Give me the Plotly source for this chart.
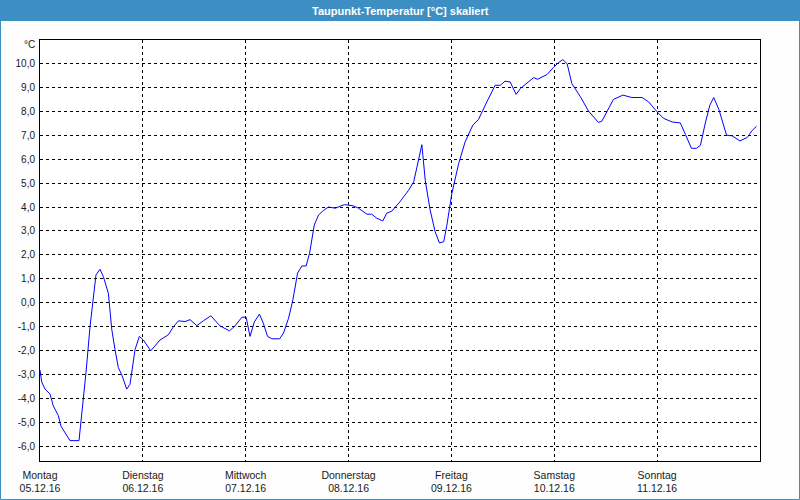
import plotly.graph_objects as go
import pandas as pd

# hours since Monday 05.12.16 00:00, dew point temperature in °C
hours = [0.0, 0.4, 1.17, 2.33, 3.1, 4.27, 4.9, 5.84, 7.0, 9.1, 9.74, 10.74, 11.67, 12.3, 13.07, 14.0,
         14.78, 15.95, 16.74, 17.5, 18.28, 19.07, 20.24, 21.0, 21.4, 22.18, 23.18, 24.12, 25.84, 26.85,
         28.0, 29.95, 31.12, 32.3, 33.85, 35.0, 36.58, 38.12, 39.85, 42.0, 44.2, 45.5, 47.1, 48.1, 49.0,
         50.0, 51.2, 52.1, 53.1, 54.1, 55.9, 56.8, 58.0, 59.0, 60.1, 61.1, 62.1, 62.9, 64.0, 65.0, 66.1,
         67.3, 68.9, 71.0, 73.1, 74.3, 76.3, 77.4, 78.6, 80.0, 80.9, 82.1, 84.0, 86.0, 87.2, 89.1, 89.9,
         91.0, 92.2, 93.2, 94.2, 94.9, 96.1, 97.7, 99.2, 101.0, 102.3, 104.3, 106.2, 107.4, 108.5, 109.7,
         111.1, 112.1, 113.6, 115.2, 116.1, 118.3, 119.8, 121.0, 122.0, 123.0, 124.1, 126.1, 128.0, 130.3,
         131.1, 133.8, 136.0, 138.1, 140.5, 142.0, 144.0, 145.5, 147.5, 149.4, 150.6, 152.0, 153.2, 154.1,
         155.3, 156.3, 157.2, 158.4, 160.2, 161.5, 163.3, 165.0, 166.2, 167.2]
temps = [-2.8, -3.3, -3.6, -3.8, -4.3, -4.7, -5.15, -5.4, -5.75, -5.75, -4.7, -2.9, -1.0, 0.05, 1.17, 1.4,
         1.1, 0.4, -1.1, -1.95, -2.7, -3.0, -3.6, -3.4, -2.9, -1.95, -1.4, -1.55, -2.0, -1.8,
         -1.55, -1.33, -1.0, -0.75, -0.78, -0.7, -0.95, -0.75, -0.54, -0.96, -1.17, -0.96, -0.6, -0.6, -1.4,
         -0.8, -0.47, -0.85, -1.4, -1.5, -1.5, -1.27, -0.64, 0.12, 1.24, 1.54, 1.54, 2.07, 3.25, 3.67, 3.85,
         4.0, 3.95, 4.1, 4.05, 3.95, 3.7, 3.7, 3.53, 3.42, 3.74, 3.83, 4.22, 4.7, 5.05, 6.6, 5.1,
         3.9, 2.97, 2.5, 2.55, 3.2, 4.57, 5.82, 6.72, 7.42, 7.65, 8.4, 9.08, 9.08, 9.25, 9.22,
         8.7, 8.95, 9.18, 9.4, 9.33, 9.53, 9.82, 10.03, 10.15, 9.98, 9.15, 8.6, 8.0, 7.53,
         7.58, 8.49, 8.67, 8.57, 8.57, 8.39, 7.97, 7.7, 7.55, 7.51, 7.03, 6.45, 6.45, 6.58,
         7.55, 8.25, 8.57, 8.07, 7.0, 6.97, 6.76, 6.9, 7.2, 7.37]

day_names = ["Montag", "Dienstag", "Mittwoch", "Donnerstag", "Freitag", "Samstag", "Sonntag"]
day_dates = ["05.12.16", "06.12.16", "07.12.16", "08.12.16", "09.12.16", "10.12.16", "11.12.16"]
y_ticks = [-6, -5, -4, -3, -2, -1, 0, 1, 2, 3, 4, 5, 6, 7, 8, 9, 10]
y_labels = ["-6,0", "-5,0", "-4,0", "-3,0", "-2,0", "-1,0", "0,0", "1,0", "2,0", "3,0", "4,0",
            "5,0", "6,0", "7,0", "8,0", "9,0", "10,0"]

start = pd.Timestamp("2016-12-05")
xs = [start + pd.Timedelta(hours=h) for h in hours]
tick_x = [start + pd.Timedelta(days=i) for i in range(len(day_names))]
tick_text = [f"{n}<br>{d}" for n, d in zip(day_names, day_dates)]

W, H = 800, 500
L, R, T, B = 40, 40, 40, 39
PW, PH = W - L - R, H - T - B


def px(p):
    return (p - L) / PW


def py(p):
    return (H - B - p) / PH


BLUE = "#3d8fc3"
FONT = "Liberation Sans"

fig = go.Figure(go.Scatter(x=xs, y=temps, mode="lines",
                           line=dict(color="#0000ff", width=1), hoverinfo="x+y"))

fig.update_layout(
    width=W, height=H,
    margin=dict(l=L, r=R, t=T, b=B, autoexpand=False),
    paper_bgcolor="#fdfefd",
    plot_bgcolor="#ffffff",
    showlegend=False,
    font=dict(family=FONT, size=10, color="#1a1a1a"),
    shapes=[
        dict(type="rect", xref="paper", yref="paper", x0=px(0), x1=px(W), y0=py(21), y1=py(-2),
             fillcolor=BLUE, line=dict(width=0), layer="below"),
        dict(type="rect", xref="paper", yref="paper", x0=px(0.5), x1=px(W - 0.5), y0=py(H - 0.5), y1=py(0),
             line=dict(color=BLUE, width=1), fillcolor="rgba(0,0,0,0)"),
    ],
    annotations=[
        dict(text="<b>Taupunkt-Temperatur [°C] skaliert</b>", xref="paper", yref="paper",
             x=0.5, y=py(10.5), xanchor="center", yanchor="middle", showarrow=False,
             font=dict(family=FONT, size=11, color="white")),
        dict(text="°C", xref="paper", yref="paper", x=px(37), y=py(44), xanchor="right",
             yanchor="middle", showarrow=False, font=dict(family=FONT, size=10, color="#1a1a1a")),
    ],
)

fig.update_xaxes(
    type="date",
    range=[start, start + pd.Timedelta(days=7)],
    tickmode="array", tickvals=tick_x, ticktext=tick_text,
    showgrid=True, gridcolor="black", gridwidth=1, griddash="3px,3px",
    showline=True, linecolor="black", linewidth=1, mirror=True,
    ticks="", zeroline=False, tickangle=0, ticklabelstandoff=4, automargin=False,
    tickfont=dict(family=FONT, size=10.5, color="#1a1a1a"),
)
fig.update_yaxes(
    range=[-6.6, 10.97],
    tickmode="array", tickvals=y_ticks, ticktext=y_labels,
    showgrid=True, gridcolor="black", gridwidth=1, griddash="3px,3px",
    showline=True, linecolor="black", linewidth=1, mirror=True,
    ticks="", zeroline=False, ticklabelstandoff=2, automargin=False,
    tickfont=dict(family=FONT, size=10, color="#1a1a1a"),
)

fig.write_html("out.html")
